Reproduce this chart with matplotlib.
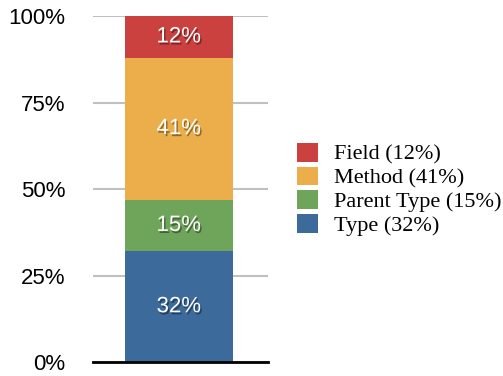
import matplotlib.pyplot as plt
import matplotlib.patheffects as pe

# 数据：从下到上堆叠
categories = ['Type', 'Parent Type', 'Method', 'Field']
values = [32, 15, 41, 12]
colors = ['#3b6a9b', '#6ea55a', '#ebae4b', '#cb413f']
yticks = [0, 25, 50, 75, 100]
ytick_labels = ['0%', '25%', '50%', '75%', '100%']

fig = plt.figure(figsize=(5.03, 3.76), dpi=100)
ax = fig.add_axes([0.185, 0.037, 0.348, 0.920])

bottom = 0
bars = []
for cat, val, col in zip(categories, values, colors):
    b = ax.bar(-0.01, val, width=0.617, bottom=bottom, color=col,
               label=f'{cat} ({val}%)', zorder=3)
    bars.append(b)
    ax.text(-0.01, bottom + val / 2, f'{val}%', ha='center', va='center',
            color='white', fontsize=16, family='Liberation Sans', zorder=4,
            path_effects=[pe.SimplePatchShadow(offset=(1, -1.5), shadow_rgbFace='black', alpha=0.4),
                          pe.Normal()])
    bottom += val

ax.set_xlim(-0.5, 0.5)
ax.set_ylim(0, 100)
ax.set_yticks(yticks)
ax.set_yticklabels(ytick_labels, fontsize=16, family='Liberation Sans')
ax.set_xticks([])
ax.tick_params(axis='y', length=0, pad=20)
ax.yaxis.grid(True, color='#c0c0c0', linewidth=1.5, zorder=0)
ax.set_axisbelow(True)
for s in ['top', 'right', 'left']:
    ax.spines[s].set_visible(False)
ax.spines['bottom'].set_linewidth(2)
ax.spines['bottom'].set_color('black')
ax.spines['bottom'].set_zorder(5)

handles = [b[0] for b in bars][::-1]
labels = [f'{c} ({v}%)' for c, v in zip(categories, values)][::-1]
fig.legend(handles, labels, loc='center left', bbox_to_anchor=(0.590, 0.496),
           frameon=False, borderpad=0, borderaxespad=0,
           prop={'family': 'Liberation Serif', 'size': 16},
           handlelength=0.95, handleheight=0.9, handletextpad=0.73,
           labelspacing=0.08)

plt.savefig('out.png', dpi=100)
